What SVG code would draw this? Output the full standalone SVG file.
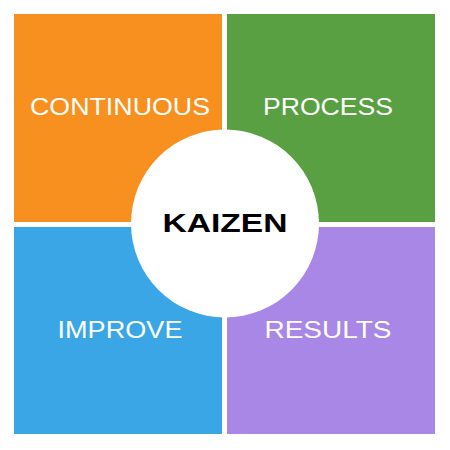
<svg xmlns="http://www.w3.org/2000/svg" width="450" height="450" viewBox="0 0 450 450">
<style>
.lbl{font-family:"Liberation Sans",Arial,sans-serif;font-size:24px;fill:#ffffff;text-anchor:middle}
.ctr{font-family:"Liberation Sans",Arial,sans-serif;font-size:26px;fill:#000000;text-anchor:middle;font-weight:bold}
</style>
<rect width="450" height="450" fill="#ffffff"/>
<g id="continuous"><rect x="14" y="14" width="208" height="208" fill="#F8901F"/><text class="lbl" x="120" y="115" textLength="180" lengthAdjust="spacingAndGlyphs">CONTINUOUS</text></g>
<g id="process"><rect x="227" y="14" width="208" height="208" fill="#59A043"/><text class="lbl" x="328" y="115" textLength="130" lengthAdjust="spacingAndGlyphs">PROCESS</text></g>
<g id="improve"><rect x="14" y="227" width="208" height="207" fill="#3AA6E6"/><text class="lbl" x="120" y="338" textLength="125" lengthAdjust="spacingAndGlyphs">IMPROVE</text></g>
<g id="results"><rect x="227" y="227" width="208" height="207" fill="#A887E7"/><text class="lbl" x="328" y="338" textLength="127" lengthAdjust="spacingAndGlyphs">RESULTS</text></g>
<g id="kaizen"><circle cx="225" cy="223.5" r="94" fill="#ffffff"/><text class="ctr" x="225" y="232" textLength="125" lengthAdjust="spacingAndGlyphs">KAIZEN</text></g>
<g id="connectors"/>
</svg>
